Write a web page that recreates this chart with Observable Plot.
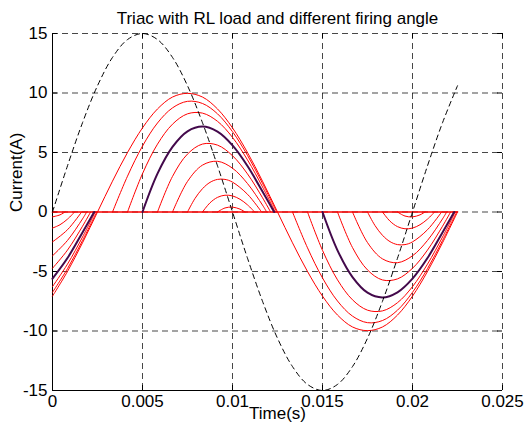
<!DOCTYPE html>
<html><head><meta charset="utf-8">
<script src="https://cdn.jsdelivr.net/npm/d3@7"></script>
<script src="https://cdn.jsdelivr.net/npm/@observablehq/plot@0.6"></script>
<style>body{margin:0;background:#fff}</style>
</head><body><div id="chart"></div>
<script>
const title = "Triac with RL load and different firing angle";
const xLabel = "Time(s)";
const yLabel = "Current(A)";
const xTicks = [0, 0.005, 0.01, 0.015, 0.02, 0.025];
const xTickLabels = ["0", "0.005", "0.01", "0.015", "0.02", "0.025"];
const yTicks = [-15, -10, -5, 0, 5, 10, 15];
const yTickLabels = ["-15", "-10", "-5", "0", "5", "10", "15"];

// Source (dashed black)
const sourceT = [0, 0.000833, 0.001667, 0.0025, 0.003333, 0.004167, 0.005, 0.005833, 0.006667, 0.0075, 0.008333, 0.009167, 0.01, 0.010833, 0.011667, 0.0125, 0.013333, 0.014167, 0.015, 0.015833, 0.016667, 0.0175, 0.018333, 0.019167, 0.02, 0.020833, 0.021667, 0.0225];
const sourceV = [0, 3.88, 7.5, 10.61, 12.99, 14.49, 15, 14.49, 12.99, 10.61, 7.5, 3.88, 0, -3.88, -7.5, -10.61, -12.99, -14.49, -15, -14.49, -12.99, -10.61, -7.5, -3.88, 0, 3.88, 7.5, 10.61];

// Load currents, one list of conducting segments [t, i] per firing angle (degrees)
const firingAngles = [45, 60, 75, 90, 105, 120, 135, 150, 165];
const highlightAngle = 90;

const current45 = [
  [[0,-7.07],[0.000833,-5.00],[0.001667,-2.59],[0.0025,0],[0.003333,2.59],[0.004167,5.00],[0.005,7.07],[0.005833,8.66],[0.006667,9.66],[0.0075,9.97],[0.008333,9.66],[0.009167,8.66],[0.01,7.07],[0.010833,5.00],[0.011667,2.59],[0.0125,0],[0.013333,-2.59],[0.014167,-5.00],[0.015,-7.07],[0.015833,-8.66],[0.016667,-9.66],[0.0175,-9.97],[0.018333,-9.66],[0.019167,-8.66],[0.02,-7.07],[0.020833,-5.00],[0.021667,-2.59],[0.0225,0]]
];
const current60 = [
  [[0,-6.75],[0.000833,-4.76],[0.001667,-2.40],[0.002456,0]],
  [[0.003333,0],[0.004167,3.01],[0.005,5.54],[0.005833,7.48],[0.006667,8.75],[0.0075,9.30],[0.008333,9.12],[0.009167,8.25],[0.01,6.75],[0.010833,4.76],[0.011667,2.40],[0.012456,0]],
  [[0.013333,0],[0.014167,-3.01],[0.015,-5.54],[0.015833,-7.48],[0.016667,-8.75],[0.0175,-9.30],[0.018333,-9.12],[0.019167,-8.25],[0.02,-6.75],[0.020833,-4.76],[0.021667,-2.40],[0.022456,0]]
];
const current75 = [
  [[0,-6.27],[0.000833,-4.38],[0.001667,-2.11],[0.002378,0]],
  [[0.004167,0],[0.005,3.22],[0.005833,5.70],[0.006667,7.38],[0.0075,8.25],[0.008333,8.31],[0.009167,7.62],[0.01,6.27],[0.010833,4.38],[0.011667,2.11],[0.012378,0]],
  [[0.014167,0],[0.015,-3.22],[0.015833,-5.70],[0.016667,-7.38],[0.0175,-8.25],[0.018333,-8.31],[0.019167,-7.62],[0.02,-6.27],[0.020833,-4.38],[0.021667,-2.11],[0.022378,0]]
];
const current90 = [
  [[0,-5.60],[0.000833,-3.87],[0.001667,-1.72],[0.002317,0]],
  [[0.005,0],[0.005833,3.22],[0.006667,5.47],[0.0075,6.78],[0.008333,7.18],[0.009167,6.75],[0.01,5.60],[0.010833,3.87],[0.011667,1.72],[0.012317,0]],
  [[0.015,0],[0.015833,-3.22],[0.016667,-5.47],[0.0175,-6.78],[0.018333,-7.18],[0.019167,-6.75],[0.02,-5.60],[0.020833,-3.87],[0.021667,-1.72],[0.022317,0]]
];
const current105 = [
  [[0,-4.73],[0.000833,-3.20],[0.001667,-1.20],[0.002117,0]],
  [[0.005833,0],[0.006667,2.99],[0.0075,4.87],[0.008333,5.71],[0.009167,5.62],[0.01,4.73],[0.010833,3.20],[0.011667,1.20],[0.012117,0]],
  [[0.015833,0],[0.016667,-2.99],[0.0175,-4.87],[0.018333,-5.71],[0.019167,-5.62],[0.02,-4.73],[0.020833,-3.20],[0.021667,-1.20],[0.022117,0]]
];
const current120 = [
  [[0,-3.68],[0.000833,-2.39],[0.001667,-0.58],[0.0019,0]],
  [[0.006667,0],[0.0075,2.57],[0.008333,3.94],[0.009167,4.26],[0.01,3.68],[0.010833,2.39],[0.011667,0.58],[0.0119,0]],
  [[0.016667,0],[0.0175,-2.57],[0.018333,-3.94],[0.019167,-4.26],[0.02,-3.68],[0.020833,-2.39],[0.021667,-0.58],[0.0219,0]]
];
const current135 = [
  [[0,-2.51],[0.000833,-1.49],[0.001617,0]],
  [[0.0075,0],[0.007917,1.14],[0.008333,1.96],[0.00875,2.49],[0.009167,2.74],[0.009583,2.74],[0.01,2.51],[0.010833,1.49],[0.011617,0]],
  [[0.0175,0],[0.017917,-1.14],[0.018333,-1.96],[0.01875,-2.49],[0.019167,-2.74],[0.019583,-2.74],[0.02,-2.51],[0.020833,-1.49],[0.021617,0]]
];
const current150 = [
  [[0,-1.35],[0.000417,-1.07],[0.000833,-0.60],[0.001228,0]],
  [[0.008333,0],[0.00875,0.77],[0.009167,1.23],[0.009583,1.41],[0.01,1.35],[0.010417,1.07],[0.010833,0.60],[0.011228,0]],
  [[0.018333,0],[0.01875,-0.77],[0.019167,-1.23],[0.019583,-1.41],[0.02,-1.35],[0.020417,-1.07],[0.020833,-0.60],[0.021228,0]]
];
const current165 = [
  [[0,-0.41],[0.000417,-0.24],[0.0007,0]],
  [[0.009167,0],[0.009583,0.34],[0.01,0.41],[0.010417,0.24],[0.0107,0]],
  [[0.019167,0],[0.019583,-0.34],[0.02,-0.41],[0.020417,-0.24],[0.0207,0]]
];
// zero (non-conducting) current level
const zeroT = [0, 0.0225];
const zeroI = [0, 0];

const currents = [current45, current60, current75, current90, current105, current120, current135, current150, current165];

const rows = [];
currents.forEach((segs, k) => {
  segs.forEach((seg, s) => {
    seg.forEach(([t, i]) => rows.push({t, i, angle: firingAngles[k], key: firingAngles[k] + "-" + s}));
  });
});
const zeroRows = zeroT.map((t, j) => ({t, i: zeroI[j]}));
const sourceRows = sourceT.map((t, j) => ({t, v: sourceV[j]}));

const red = "#ff0000", purple = "#43094b";
const W = 528, H = 430, mL = 52, mR = 26, mT = 33, mB = 40;
const fw = W - mL - mR, fh = H - mT - mB, tick = 5;
const gridStyle = {stroke: "#000", strokeOpacity: 0.72, strokeDasharray: "6,4", strokeWidth: 1};

const chart = Plot.plot({
  width: W, height: H,
  marginLeft: mL, marginRight: mR, marginTop: mT, marginBottom: mB,
  style: {fontFamily: "'Liberation Sans', Arial, sans-serif", fontSize: "17px", background: "#fff", color: "#000"},
  x: {domain: [xTicks[0], xTicks[xTicks.length - 1]]},
  y: {domain: [yTicks[0], yTicks[yTicks.length - 1]]},
  marks: [
    Plot.gridX(xTicks, gridStyle),
    Plot.gridY(yTicks, gridStyle),
    // inward ticks on all sides
    Plot.tickX(xTicks, {x: d => d, insetTop: fh - tick, stroke: "#000"}),
    Plot.tickX(xTicks, {x: d => d, insetBottom: fh - tick, stroke: "#000"}),
    Plot.tickY(yTicks, {y: d => d, insetRight: fw - tick, stroke: "#000"}),
    Plot.tickY(yTicks, {y: d => d, insetLeft: fw - tick, stroke: "#000"}),
    Plot.ruleX([xTicks[0]], {stroke: "#000"}),
    Plot.ruleY([yTicks[0]], {stroke: "#000"}),
    Plot.axisX(xTicks, {anchor: "bottom", tickSize: 0, tickPadding: 4, tickFormat: (d, j) => xTickLabels[j], label: null, fontSize: 17}),
    Plot.axisY(yTicks, {anchor: "left", tickSize: 0, tickPadding: 5, tickFormat: (d, j) => yTickLabels[j], label: null, fontSize: 17}),
    Plot.line(zeroRows, {x: "t", y: "i", stroke: red, strokeWidth: 1.6}),
    Plot.line(rows.filter(d => d.angle !== highlightAngle), {x: "t", y: "i", z: "key", stroke: red, strokeWidth: 1, curve: "catmull-rom"}),
    Plot.line(rows.filter(d => d.angle === highlightAngle), {x: "t", y: "i", z: "key", stroke: purple, strokeWidth: 2, curve: "catmull-rom"}),
    Plot.line(sourceRows, {x: "t", y: "v", stroke: "#000", strokeWidth: 1, strokeDasharray: "5,4", curve: "catmull-rom"}),
    Plot.text([title], {frameAnchor: "top", dy: -22, fontSize: 17, fill: "#000"}),
    Plot.text([xLabel], {frameAnchor: "bottom", dy: 28, fontSize: 17, fill: "#000"}),
    Plot.text([yLabel], {frameAnchor: "left", dx: -36, rotate: -90, fontSize: 17, fill: "#000"})
  ]
});
document.getElementById("chart").appendChild(chart);
</script>
</body></html>
